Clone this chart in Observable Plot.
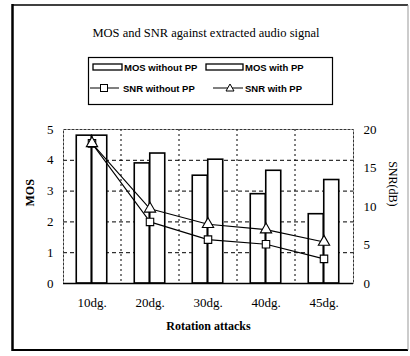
<!DOCTYPE html>
<html>
<head>
<meta charset="utf-8">
<script src="https://cdn.jsdelivr.net/npm/d3@7"></script>
<script src="https://cdn.jsdelivr.net/npm/@observablehq/plot@0.6"></script>
<style>
  html, body { margin: 0; padding: 0; background: #fff; }
  #wrap { position: relative; width: 410px; height: 356px; overflow: hidden; background: #fff; }
  #wrap > svg { position: absolute; left: 0; top: 0; }
  #deco { pointer-events: none; }
</style>
</head>
<body>
<div id="wrap">
  <svg id="deco" width="410" height="356" xmlns="http://www.w3.org/2000/svg">
    <!-- outer border -->
    <line x1="12" y1="5" x2="408" y2="5" stroke="#000" stroke-width="1.5"/>
    <line x1="12.5" y1="4" x2="12.5" y2="351" stroke="#000" stroke-width="2.5"/>
    <line x1="12" y1="350" x2="408" y2="350" stroke="#000" stroke-width="2"/>
    <line x1="408" y1="5" x2="408" y2="350" stroke="#999" stroke-width="1"/>
    <!-- title -->
    <text x="206" y="37" text-anchor="middle" font-family="'Liberation Serif', serif" font-size="12.5">MOS and SNR against extracted audio signal</text>
    <!-- legend -->
    <rect x="88.5" y="57.5" width="244" height="47" fill="none" stroke="#000" stroke-width="1.2"/>
    <g font-family="'Liberation Sans', sans-serif" font-size="9.5" font-weight="bold">
      <rect x="93" y="64" width="29" height="6" fill="#fff" stroke="#000" stroke-width="1.3"/>
      <text x="124" y="70.5">MOS without PP</text>
      <rect x="206" y="64" width="37" height="6" fill="#fff" stroke="#000" stroke-width="1.3"/>
      <text x="245" y="70.5">MOS with PP</text>
      <line x1="90" y1="88" x2="119" y2="88" stroke="#000" stroke-width="1"/>
      <rect x="100.5" y="84.5" width="7" height="7" fill="#fff" stroke="#000" stroke-width="1"/>
      <text x="123" y="91.5">SNR without PP</text>
      <line x1="213" y1="88" x2="243" y2="88" stroke="#000" stroke-width="1"/>
      <path d="M230,84 L234,91 L226,91 Z" fill="#fff" stroke="#000" stroke-width="1"/>
      <text x="245" y="91.5">SNR with PP</text>
    </g>
  </svg>
</div>
<script>
const categories = ["10dg.", "20dg.", "30dg.", "40dg.", "45dg."];
const mosWithoutPP = [4.8, 3.9, 3.5, 2.9, 2.25];
const mosWithPP = [4.8, 4.22, 4.02, 3.66, 3.36];
const snrWithoutPP = [18.2, 8.0, 5.7, 5.1, 3.2];
const snrWithPP = [18.2, 9.7, 7.7, 7.0, 5.4];
const mosTicks = [0, 1, 2, 3, 4, 5];
const snrTicks = [0, 5, 10, 15, 20];

const rows = categories.map((c, i) => ({
  cat: c,
  mos1: mosWithoutPP[i],
  mos2: mosWithPP[i],
  snr1: snrWithoutPP[i],
  snr2: snrWithPP[i]
}));

const W = 410, H = 356, mL = 63, mR = 57, mT = 129, mB = 73;
const step = (W - mL - mR) / categories.length;
const padIn = 0.733;
const bw = step * (1 - padIn);
const snrMax = snrTicks[snrTicks.length - 1];
const mosMax = mosTicks[mosTicks.length - 1];
const toMos = v => v * mosMax / snrMax;

const chart = Plot.plot({
  width: W,
  height: H,
  marginLeft: mL,
  marginRight: mR,
  marginTop: mT,
  marginBottom: mB,
  style: { fontFamily: "'Liberation Serif', serif", fontSize: "13px", background: "transparent", color: "#000" },
  x: { domain: categories, paddingInner: padIn, paddingOuter: padIn / 2, align: 0.5 },
  y: { domain: [0, mosMax] },
  marks: [
    Plot.ruleY(mosTicks.filter(d => d > 0 && d < mosMax), { stroke: "#000", strokeWidth: 1, strokeDasharray: "4,3" }),
    Plot.ruleX(categories.slice(0, -1), { x: d => d, dx: step / 2, stroke: "#000", strokeWidth: 1, strokeDasharray: "2,3" }),
    Plot.frame({ stroke: "#333", strokeWidth: 1, strokeDasharray: "3,1" }),
    Plot.barY(rows, { x: "cat", y: "mos1", dx: -bw / 2, fill: "white", stroke: "black", strokeWidth: 1.6 }),
    Plot.barY(rows, { x: "cat", y: "mos2", dx: bw / 2, fill: "white", stroke: "black", strokeWidth: 1.6 }),
    Plot.ruleY([0], { stroke: "#000", strokeWidth: 1.5 }),
    Plot.line(rows, { x: "cat", y: d => toMos(d.snr1), stroke: "#000", strokeWidth: 1.1 }),
    Plot.line(rows, { x: "cat", y: d => toMos(d.snr2), stroke: "#000", strokeWidth: 1.1 }),
    Plot.dot(rows, { x: "cat", y: d => toMos(d.snr1), symbol: "square", r: 4.2, fill: "white", stroke: "#000", strokeWidth: 1.1 }),
    Plot.dot(rows, { x: "cat", y: d => toMos(d.snr2), symbol: "triangle", r: 4.2, fill: "white", stroke: "#000", strokeWidth: 1.1 }),
    Plot.axisY(mosTicks, { anchor: "left", tickSize: 0, tickPadding: 10, label: null }),
    Plot.axisY(snrTicks.map(toMos), { anchor: "right", tickSize: 0, tickPadding: 10, tickFormat: d => Math.round(d * snrMax / mosMax), label: null }),
    Plot.axisX({ tickSize: 0, tickPadding: 14, label: null }),
    Plot.text(["MOS"], { frameAnchor: "left", dx: -33, rotate: -90, text: d => d, fontWeight: "bold", fontSize: 12 }),
    Plot.text(["SNR(dB)"], { frameAnchor: "right", dx: 39, rotate: 90, text: d => d, fontSize: 12 }),
    Plot.text(["Rotation attacks"], { frameAnchor: "bottom", dy: 46, text: d => d, fontWeight: "bold", fontSize: 12 })
  ]
});
document.getElementById("wrap").insertBefore(chart, document.getElementById("deco"));
</script>
</body>
</html>
